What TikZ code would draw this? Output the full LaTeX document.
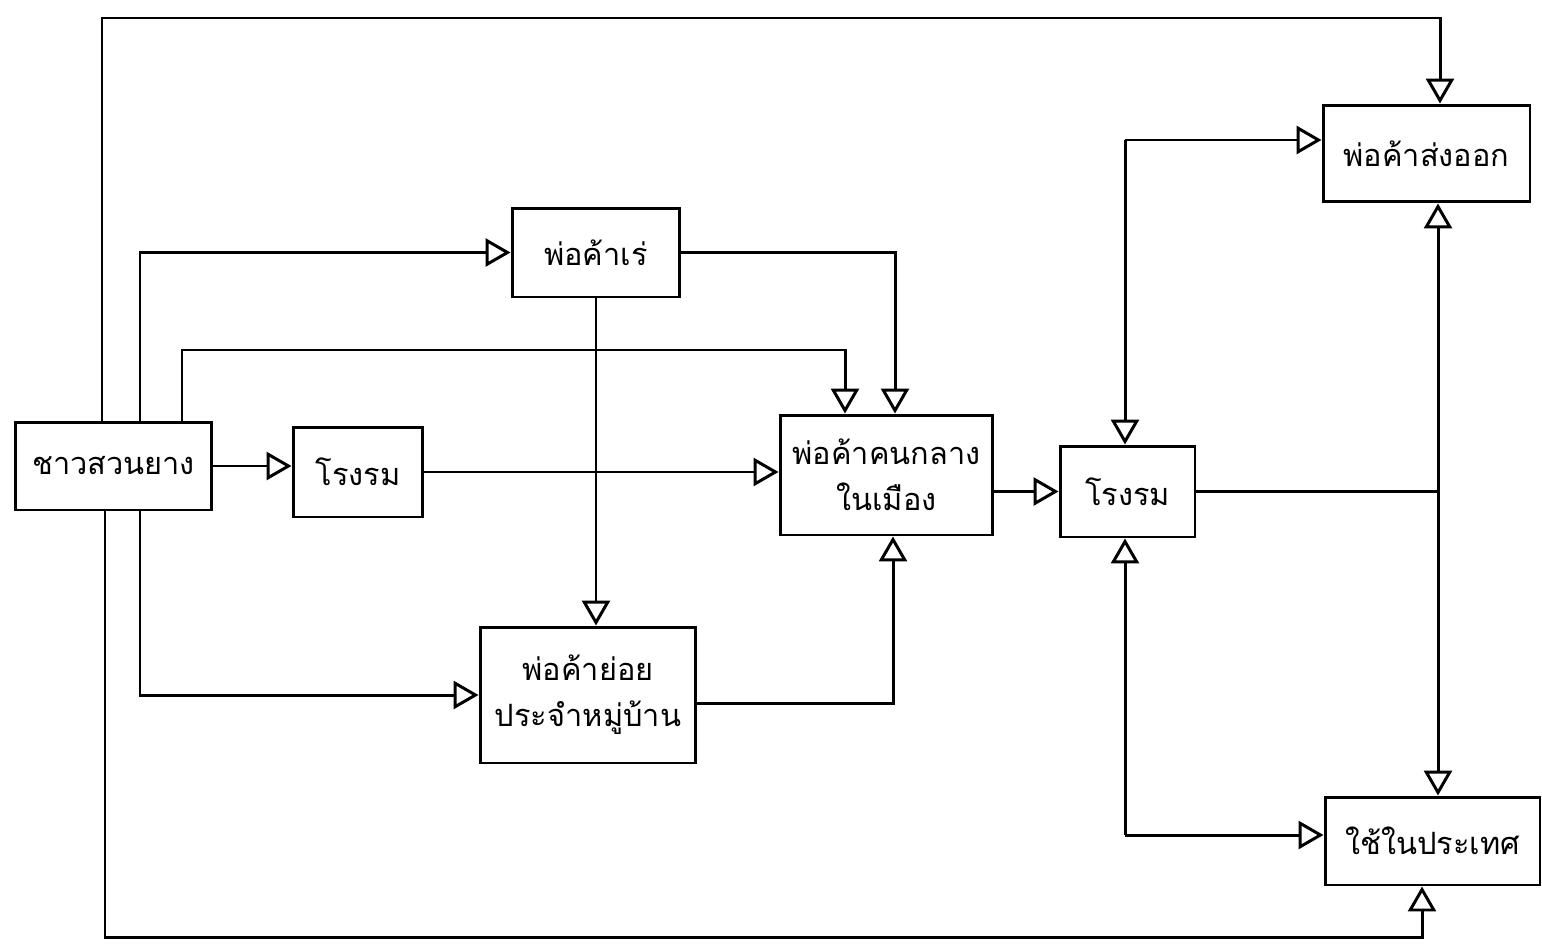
\documentclass[tikz,border=0pt]{standalone}
\usepackage{fontspec}
\newfontfamily\thaifont[Script=Thai]{Loma}
\usetikzlibrary{arrows.meta}
\begin{document}
\begin{tikzpicture}[x=0.02cm,y=-0.02cm,
  line width=1.7pt,
  box/.style={draw, inner sep=0pt, align=center, font=\thaifont\fontsize{17.5}{26}\selectfont},
  arr/.style={-{Triangle[open,length=0.5cm,width=0.56cm]}},
  line join=miter]
\useasboundingbox (0,0) rectangle (1542,950);
% boxes
\node[box, minimum width=3.94cm, minimum height=1.76cm] (A) at (113.5,466) {ชาวสวนยาง};
\node[box, minimum width=2.6cm, minimum height=1.8cm] (B) at (358,472) {โรงรม};
\node[box, minimum width=3.36cm, minimum height=1.78cm] (C) at (596,252.5) {พ่อค้าเร่};
\node[box, minimum width=4.26cm, minimum height=2.4cm] (D) at (886.5,475) {พ่อค้าคนกลาง\\ในเมือง};
\node[box, minimum width=4.32cm, minimum height=2.72cm] (E) at (588,695) {พ่อค้าย่อย\\ประจำหมู่บ้าน};
\node[box, minimum width=2.7cm, minimum height=1.82cm] (F) at (1127.5,491.5) {โรงรม};
\node[box, minimum width=4.14cm, minimum height=1.94cm] (G) at (1426.5,153.5) {พ่อค้าส่งออก};
\node[box, minimum width=4.3cm, minimum height=1.76cm] (H) at (1432.5,841) {ใช้ในประเทศ};
% helper coordinates
\coordinate (t1) at (102,18);
\coordinate (t2) at (1440,18);
\coordinate (x140) at (140,0);
\coordinate (p3) at (182,350);
\coordinate (q3) at (845,350);
\coordinate (x895) at (895,0);
\coordinate (p9) at (105,937);
\coordinate (q9) at (1422,937);
\coordinate (q10) at (893,703);
\coordinate (j1) at (1125,140);
\coordinate (j2) at (1125,835);
\coordinate (v1) at (1438,0);
% connectors
\draw[arr] (A.north -| t1) -- (t1) -- (t2) -- (t2 |- G.north);
\draw[arr] (A.north -| x140) |- (C.west);
\draw[arr] (A.north -| p3) -- (p3) -- (q3) -- (q3 |- D.north);
\draw[arr] (A.east) -- (A.east -| B.west);
\draw[arr] (B.east) -- (B.east -| D.west);
\draw[arr] (C.east) -| (D.north -| x895);
\draw[arr] (C.south) -- (C.south |- E.north);
\draw[arr] (A.south -| x140) |- (E.west);
\draw[arr] (A.south -| p9) -- (p9) -- (q9) -- (q9 |- H.south);
\draw[arr] (E.east |- q10) -- (q10) -- (q10 |- D.south);
\draw[arr] (D.east |- F.west) -- (F.west);
\draw[arr] (j1) -- (j1 |- F.north);
\draw[arr] (j1) -- (j1 -| G.west);
\draw[arr] (j2) -- (j2 |- F.south);
\draw[arr] (j2) -- (j2 -| H.west);
\draw (F.east) -- (F.east -| v1);
\draw[arr] (F.east -| v1) -- (v1 |- G.south);
\draw[arr] (F.east -| v1) -- (v1 |- H.north);
\end{tikzpicture}
\end{document}
